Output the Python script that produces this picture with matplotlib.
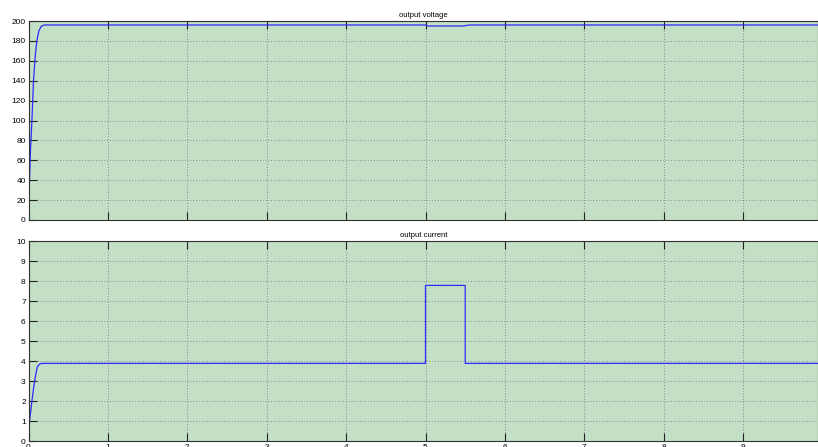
import matplotlib
matplotlib.use("Agg")
import matplotlib.pyplot as plt
import numpy as np

# Data
v_t = [0, 0.005, 0.013, 0.025, 0.043, 0.063, 0.085, 0.105, 0.13, 0.16, 0.2, 5.0, 5.02, 5.48, 5.55, 9.95]
v_y = [0, 15, 40, 70, 100, 140, 165, 180, 190, 194.5, 196, 196, 195, 195, 196, 196]

i_t = [0, 0.013, 0.043, 0.076, 0.11, 0.14, 0.17, 5.0, 5.0, 5.5, 5.5, 9.95]
i_y = [0, 1, 2, 3, 3.7, 3.85, 3.88, 3.88, 7.78, 7.78, 3.88, 3.88]

xticks = list(range(0, 10))
v_yticks = list(range(0, 201, 20))
i_yticks = list(range(0, 11))

bg = '#c3dfc6'
line_c = '#2b2bff'
font = ['Liberation Sans Narrow', 'Liberation Sans', 'DejaVu Sans']
plt.rcParams['font.family'] = font

fig = plt.figure(figsize=(8.18, 4.47), dpi=100)
W, H = 818, 447
left = 28.5 / W
xmax = (818 - 28.5) / 79.4

def make_ax(top_px, bot_px):
    ax = fig.add_axes([left, 1 - bot_px / H, 1 - left, (bot_px - top_px) / H])
    ax.set_facecolor(bg)
    ax.set_xlim(0, xmax)
    ax.set_xticks(xticks)
    ax.grid(True, linestyle=(0, (1, 3)), color='#4a4a4a', linewidth=0.5)
    ax.tick_params(direction='in', length=5.8, width=0.8, color='#222222',
                   labelsize=6, top=True, right=False, pad=2)
    for s in ax.spines.values():
        s.set_color('#333333')
        s.set_linewidth(0.8)
    return ax

ax1 = make_ax(21, 220)
ax1.plot(v_t, v_y, color=line_c, linewidth=0.9)
ax1.set_ylim(0, 200)
ax1.set_yticks(v_yticks)
ax1.set_xticklabels([])
ax1.set_title('output voltage', fontsize=5.5, pad=3)

ax2 = make_ax(241, 441)
ax2.plot(i_t, i_y, color=line_c, linewidth=0.9)
ax2.set_ylim(0, 10)
ax2.set_yticks(i_yticks)
ax2.set_title('output current', fontsize=5.5, pad=3)

fig.savefig('out.png', dpi=100)
